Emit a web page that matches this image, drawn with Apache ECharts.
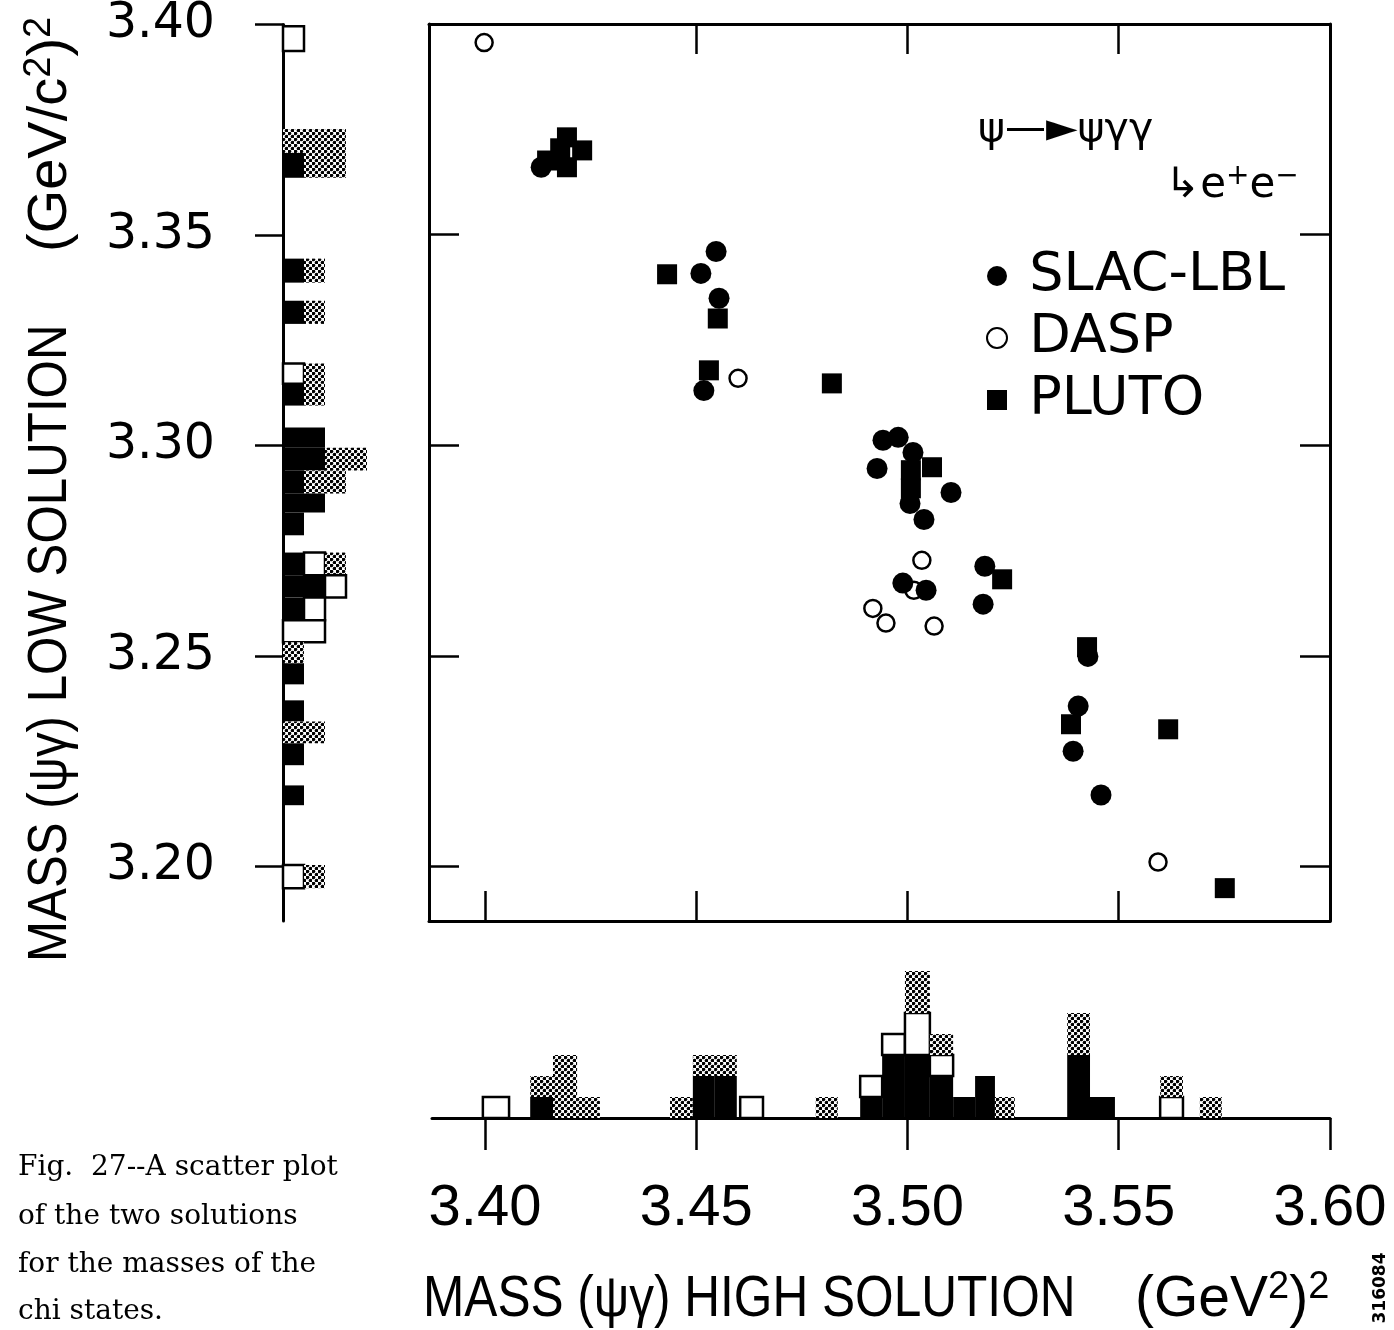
<!DOCTYPE html>
<html><head><meta charset="utf-8">
<script src="https://cdn.jsdelivr.net/npm/echarts@6/dist/echarts.min.js"></script>
<style>html,body{margin:0;padding:0;background:#fff}#c{width:1394px;height:1330px}</style>
</head><body><div id="c"></div>
<script>
// ---------------- data ----------------
// scatter: high solution (x) vs low solution (y), (GeV)^2
const slacX = [3.4133, 3.4547, 3.4511, 3.4554, 3.4518, 3.4942, 3.4978, 3.4928, 3.5013, 3.5006, 3.5039, 3.5103, 3.4989, 3.5044, 3.5183, 3.5179, 3.5427, 3.5404, 3.5392, 3.5458];
const slacY = [3.3660, 3.3460, 3.3408, 3.3349, 3.3130, 3.3012, 3.3019, 3.2945, 3.2983, 3.2862, 3.2824, 3.2888, 3.2673, 3.2656, 3.2713, 3.2623, 3.2499, 3.2381, 3.2274, 3.2170];
const daspX = [3.3998, 3.4599, 3.5034, 3.5015, 3.4918, 3.4949, 3.5063, 3.5593];
const daspY = [3.3956, 3.3159, 3.2727, 3.2656, 3.2613, 3.2578, 3.2571, 3.2011];
const plutoX = [3.4147, 3.4194, 3.4178, 3.4194, 3.4230, 3.4431, 3.4551, 3.4530, 3.4821, 3.5008, 3.5008, 3.5058, 3.5224, 3.5425, 3.5387, 3.5617, 3.5751];
const plutoY = [3.3676, 3.3731, 3.3705, 3.3660, 3.3700, 3.3406, 3.3301, 3.3178, 3.3147, 3.2941, 3.2898, 3.2948, 3.2682, 3.2521, 3.2338, 3.2326, 3.1949];

// histogram of the high solution (bottom): bin edges and counts per experiment
const hiBinLo = [3.3995, 3.4107, 3.4161, 3.4218, 3.4438, 3.4492, 3.4544, 3.4604, 3.4783, 3.4888, 3.4940, 3.4994, 3.5053, 3.5108, 3.5160, 3.5207, 3.5378, 3.5432, 3.5598, 3.5692];
const hiBinHi = [3.4057, 3.4161, 3.4218, 3.4272, 3.4492, 3.4544, 3.4596, 3.4658, 3.4835, 3.4940, 3.4994, 3.5053, 3.5108, 3.5160, 3.5207, 3.5254, 3.5432, 3.5491, 3.5652, 3.5744];
const hiSlac  = [0, 1, 0, 0, 0, 2, 2, 0, 0, 1, 3, 3, 2, 1, 2, 0, 3, 1, 0, 0];
const hiDasp  = [1, 0, 0, 0, 0, 0, 0, 1, 0, 1, 1, 2, 1, 0, 0, 0, 0, 0, 1, 0];
const hiPluto = [0, 1, 3, 1, 1, 1, 1, 0, 1, 0, 0, 2, 1, 0, 0, 1, 2, 0, 1, 1];

// histogram of the low solution (left)
const loBinLo = [3.3937, 3.3695, 3.3636, 3.3387, 3.3289, 3.3147, 3.3095, 3.2995, 3.2941, 3.2886, 3.2841, 3.2787, 3.2692, 3.2639, 3.2585, 3.2533, 3.2483, 3.2433, 3.2345, 3.2293, 3.2241, 3.2146, 3.1949];
const loBinHi = [3.3996, 3.3752, 3.3695, 3.3444, 3.3344, 3.3195, 3.3147, 3.3043, 3.2995, 3.2941, 3.2886, 3.2841, 3.2746, 3.2692, 3.2639, 3.2585, 3.2533, 3.2483, 3.2395, 3.2345, 3.2293, 3.2193, 3.2004];
const loSlac  = [0, 0, 1, 1, 1, 0, 1, 2, 2, 1, 2, 1, 1, 2, 1, 0, 0, 1, 1, 0, 1, 1, 0];
const loDasp  = [1, 0, 0, 0, 0, 1, 0, 0, 0, 0, 0, 0, 1, 1, 1, 2, 0, 0, 0, 0, 0, 0, 1];
const loPluto = [0, 3, 2, 1, 1, 1, 1, 0, 2, 2, 0, 0, 1, 0, 0, 0, 1, 0, 0, 2, 0, 0, 1];

// tick values
const xTicks = [3.40, 3.45, 3.50, 3.55, 3.60];
const yTicks = [3.20, 3.25, 3.30, 3.35, 3.40];
const seriesNames = ['SLAC-LBL', 'DASP', 'PLUTO'];

// ---------------- helpers ----------------
const pc = document.createElement('canvas');
pc.width = 6; pc.height = 6;
(function () {
  const g = pc.getContext('2d');
  g.fillStyle = '#fff'; g.fillRect(0, 0, 6, 6);
  g.fillStyle = '#000';
  [[1.5, 1.5], [4.5, 4.5]].forEach(([cx, cy]) => { g.beginPath(); g.arc(cx, cy, 1.8, 0, Math.PI * 2); g.fill(); });
})();
const stipple = { image: pc, repeat: 'repeat' };

function segs(lo, hi, a, b, c) {
  const out = [];
  for (let i = 0; i < lo.length; i++) {
    let base = 0;
    [[a, 0], [b, 1], [c, 2]].forEach(([arr, k]) => {
      if (arr[i] > 0) { out.push([lo[i], hi[i], base, base + arr[i], k]); base += arr[i]; }
    });
  }
  return out;
}
function segStyle(k) {
  if (k === 0) return { fill: '#000' };
  if (k === 1) return { fill: '#fff', stroke: '#000', lineWidth: 2.5 };
  return { fill: stipple };
}
const zip = (xs, ys) => xs.map((x, i) => [x, ys[i]]);

const X_MIN = 3.38675, X_MAX = 3.60, Y_MIN = 3.1871, Y_MAX = 3.40;
const black = '#000';

const chart = echarts.init(document.getElementById('c'), null, { renderer: 'canvas' });
chart.setOption({
  animation: false,
  backgroundColor: '#fff',
  grid: [
    { left: 429, top: 24, width: 901, height: 897 },
    { left: 432, top: 950, width: 898, height: 168 },
    { left: 283, top: 24, width: 126, height: 897 }
  ],
  xAxis: [
    { gridIndex: 0, type: 'value', min: X_MIN, max: X_MAX, position: 'bottom',
      axisLine: { onZero: false, lineStyle: { color: black, width: 3 } },
      axisTick: { inside: true, length: 30, customValues: xTicks.slice(0, 4), lineStyle: { color: black, width: 2.5 } },
      axisLabel: { show: false }, splitLine: { show: false } },
    { gridIndex: 0, type: 'value', min: X_MIN, max: X_MAX, position: 'top',
      axisLine: { onZero: false, lineStyle: { color: black, width: 3 } },
      axisTick: { inside: true, length: 30, customValues: xTicks.slice(1, 4), lineStyle: { color: black, width: 2.5 } },
      axisLabel: { show: false }, splitLine: { show: false } },
    { gridIndex: 1, type: 'value', min: 3.38746, max: X_MAX, position: 'bottom',
      axisLine: { onZero: false, lineStyle: { color: black, width: 3 } },
      axisTick: { inside: false, length: 32, customValues: xTicks, lineStyle: { color: black, width: 2.5 } },
      axisLabel: { customValues: xTicks, formatter: v => v.toFixed(2), fontSize: 58, fontFamily: 'Liberation Sans', color: black, margin: 62 },
      splitLine: { show: false } },
    { gridIndex: 2, type: 'value', min: 0, max: 6, show: false }
  ],
  yAxis: [
    { gridIndex: 0, type: 'value', min: Y_MIN, max: Y_MAX, position: 'left',
      axisLine: { onZero: false, lineStyle: { color: black, width: 3 } },
      axisTick: { inside: true, length: 30, customValues: yTicks.slice(0, 4), lineStyle: { color: black, width: 2.5 } },
      axisLabel: { show: false }, splitLine: { show: false } },
    { gridIndex: 0, type: 'value', min: Y_MIN, max: Y_MAX, position: 'right',
      axisLine: { onZero: false, lineStyle: { color: black, width: 3 } },
      axisTick: { inside: true, length: 30, customValues: yTicks.slice(0, 4), lineStyle: { color: black, width: 2.5 } },
      axisLabel: { show: false }, splitLine: { show: false } },
    { gridIndex: 1, type: 'value', min: 0, max: 8, show: false },
    { gridIndex: 2, type: 'value', min: Y_MIN, max: Y_MAX, position: 'left',
      axisLine: { onZero: false, lineStyle: { color: black, width: 3 } },
      axisTick: { inside: false, length: 28, customValues: yTicks, lineStyle: { color: black, width: 2.5 } },
      axisLabel: { customValues: yTicks, formatter: v => v.toFixed(2), fontSize: 49, fontFamily: 'DejaVu Sans', color: black, margin: 68 },
      splitLine: { show: false } }
  ],
  legend: {
    orient: 'vertical', left: 981, top: 243, itemWidth: 20, itemHeight: 20, itemGap: 6,
    selectedMode: false, data: seriesNames,
    formatter: name => ' ' + name,
    textStyle: { fontSize: 54, fontFamily: 'DejaVu Sans', color: black, lineHeight: 56 }
  },
  series: [
    { name: 'DASP', type: 'scatter', xAxisIndex: 0, yAxisIndex: 0, symbol: 'circle', symbolSize: 17,
      itemStyle: { color: '#fff', borderColor: black, borderWidth: 2.5, opacity: 1 }, data: zip(daspX, daspY), z: 3 },
    { name: 'SLAC-LBL', type: 'scatter', xAxisIndex: 0, yAxisIndex: 0, symbol: 'circle', symbolSize: 21,
      itemStyle: { color: black, opacity: 1 }, data: zip(slacX, slacY), z: 4 },
    { name: 'PLUTO', type: 'scatter', xAxisIndex: 0, yAxisIndex: 0, symbol: 'rect', symbolSize: 20,
      itemStyle: { color: black, opacity: 1 }, data: zip(plutoX, plutoY), z: 4 },
    { type: 'custom', xAxisIndex: 2, yAxisIndex: 2, encode: { x: [0, 1], y: [2, 3] },
      data: segs(hiBinLo, hiBinHi, hiSlac, hiDasp, hiPluto),
      renderItem: (params, api) => {
        const p0 = api.coord([api.value(0), api.value(2)]);
        const p1 = api.coord([api.value(1), api.value(3)]);
        return { type: 'rect', shape: { x: p0[0], y: p1[1], width: p1[0] - p0[0], height: p0[1] - p1[1] }, style: segStyle(api.value(4)) };
      } },
    { type: 'custom', xAxisIndex: 3, yAxisIndex: 3, encode: { x: [2, 3], y: [0, 1] },
      data: segs(loBinLo, loBinHi, loSlac, loDasp, loPluto),
      renderItem: (params, api) => {
        const p0 = api.coord([api.value(2), api.value(0)]);
        const p1 = api.coord([api.value(3), api.value(1)]);
        return { type: 'rect', shape: { x: p0[0], y: p1[1], width: p1[0] - p0[0], height: p0[1] - p1[1] }, style: segStyle(api.value(4)) };
      } }
  ],
  graphic: [
    { type: 'text', x: 51, y: 962, rotation: Math.PI / 2, scaleX: 0.88,
      style: { text: 'MASS (ψγ) LOW SOLUTION', fontSize: 56, fontFamily: 'Liberation Sans', fill: black, align: 'left', verticalAlign: 'middle' } },
    { type: 'text', x: 51, y: 252, rotation: Math.PI / 2,
      style: { text: '(GeV/c{s|2}){s|2}', fontSize: 56, fontFamily: 'Liberation Sans', fill: black, align: 'left', verticalAlign: 'middle', lineHeight: 60,
        rich: { s: { fontSize: 38, lineHeight: 38, verticalAlign: 'top', fontFamily: 'Liberation Sans', fill: black } } } },
    { type: 'text', x: 423, y: 1300, scaleX: 0.87,
      style: { text: 'MASS (ψγ) HIGH SOLUTION', fontSize: 57, fontFamily: 'Liberation Sans', fill: black, align: 'left', verticalAlign: 'middle' } },
    { type: 'text', x: 1135, y: 1300,
      style: { text: '(GeV{s|2}){s|2}', fontSize: 57, fontFamily: 'Liberation Sans', fill: black, align: 'left', verticalAlign: 'middle', lineHeight: 62,
        rich: { s: { fontSize: 38, lineHeight: 38, verticalAlign: 'top', fontFamily: 'Liberation Sans', fill: black } } } },
    { type: 'text', x: 978, y: 130,
      style: { text: 'ψ\u2014\u25BAψγγ', fontSize: 41, fontFamily: 'DejaVu Sans', fill: black, align: 'left', verticalAlign: 'middle' } },
    { type: 'text', x: 1165, y: 186,
      style: { text: '↳e{s|+}e{s|−}', fontSize: 42, fontFamily: 'DejaVu Sans', fill: black, align: 'left', verticalAlign: 'middle', lineHeight: 46,
        rich: { s: { fontSize: 28, lineHeight: 28, verticalAlign: 'top', fontFamily: 'DejaVu Sans', fill: black } } } },
    { type: 'text', x: 18, y: 1168, style: { text: 'Fig.  27--A scatter plot', fontSize: 28, fontFamily: 'DejaVu Serif', fill: black, verticalAlign: 'middle' } },
    { type: 'text', x: 18, y: 1217, style: { text: 'of the two solutions', fontSize: 28, fontFamily: 'DejaVu Serif', fill: black, verticalAlign: 'middle' } },
    { type: 'text', x: 18, y: 1265, style: { text: 'for the masses of the', fontSize: 28, fontFamily: 'DejaVu Serif', fill: black, verticalAlign: 'middle' } },
    { type: 'text', x: 18, y: 1312, style: { text: 'chi states.', fontSize: 28, fontFamily: 'DejaVu Serif', fill: black, verticalAlign: 'middle' } },
    { type: 'text', x: 1381, y: 1288, rotation: Math.PI / 2,
      style: { text: '316084', fontSize: 17, fontWeight: 'bold', fontFamily: 'DejaVu Sans', fill: black, align: 'center', verticalAlign: 'middle' } }
  ]
});
</script>
</body></html>
